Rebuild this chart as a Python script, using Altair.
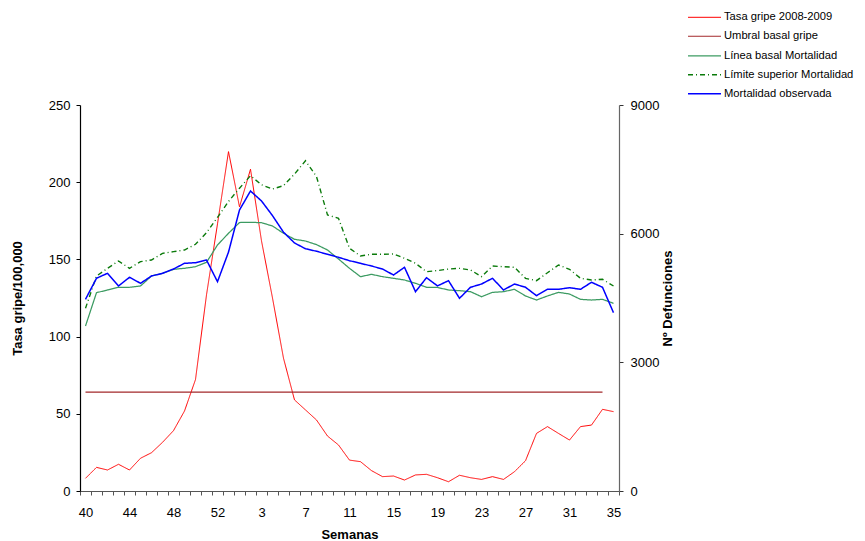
import json
import altair as alt
import pandas as pd

FONT = "Liberation Sans"

semanas = ["40", "41", "42", "43", "44", "45", "46", "47", "48", "49", "50", "51", "52", "53",
           "1", "2", "3", "4", "5", "6", "7", "8", "9", "10", "11", "12", "13", "14", "15",
           "16", "17", "18", "19", "20", "21", "22", "23", "24", "25", "26", "27", "28", "29",
           "30", "31", "32", "33", "34", "35"]

semanas_etiqueta = ["40", "44", "48", "52", "3", "7", "11", "15", "19", "23", "27", "31", "35"]

tasa_gripe = [8.2, 15.3, 13.6, 17.3, 13.6, 21.2, 24.8, 31.5, 39.1, 51.8, 72.2, 127, 173,
              219.8, 184, 208.4, 162, 125, 86, 59, 52.5, 46, 35.6, 29.8, 20, 19, 13.2, 9.3,
              9.7, 7.1, 10.4, 10.8, 8.6, 6.0, 10.2, 8.6, 7.5, 9.3, 7.5, 12.5, 19.6, 37.3,
              41.7, 37.3, 33, 41.7, 42.7, 52.9, 51.4]

umbral_gripe = [64, 64, 64, 64, 64, 64, 64, 64,
                64, 64, 64, 64, 64, 64, 64, 64,
                64, 64, 64, 64, 64, 64, 64, 64,
                64, 64, 64, 64, 64, 64, 64, 64,
                64, 64, 64, 64, 64, 64, 64, 64,
                64, 64, 64, 64, 64, 64, 64, 64]

linea_basal = [3847, 4624, 4687, 4750, 4750, 4780, 5013, 5076, 5169, 5192, 5230, 5332, 5736,
               6009, 6260, 6265, 6256, 6179, 6009, 5869, 5829, 5744, 5619, 5409, 5192, 4997,
               5052, 4997, 4959, 4920, 4843, 4750, 4745, 4687, 4671, 4647, 4530, 4632, 4647,
               4703, 4547, 4453, 4547, 4632, 4593, 4469, 4453, 4469, 4376]

limite_superior = [4259, 5013, 5192, 5363, 5192, 5347, 5386, 5542, 5580, 5619, 5752, 6023,
                   6380, 6750, 7060, 7350, 7140, 7040, 7120, 7390, 7700, 7330, 6436, 6359,
                   5659, 5479, 5519, 5519, 5526, 5426, 5309, 5113, 5140, 5176, 5192, 5153,
                   4997, 5246, 5230, 5215, 4959, 4904, 5090, 5269, 5169, 4959, 4920, 4936,
                   4780]

mortalidad_obs = [4470, 4960, 5076, 4780, 4983, 4843, 5013, 5076, 5176, 5309, 5323, 5386,
                  4880, 5570, 6552, 6995, 6762, 6420, 6035, 5783, 5648, 5590, 5519, 5449,
                  5370, 5309, 5246, 5176, 5036, 5216, 4647, 4973, 4783, 4904, 4493, 4750,
                  4826, 4959, 4687, 4826, 4750, 4554, 4703, 4703, 4740, 4703, 4866, 4750,
                  4158]

series = ["Tasa gripe 2008-2009", "Umbral basal gripe", "Línea basal Mortalidad",
          "Límite superior Mortalidad", "Mortalidad observada"]
colores = ["#ff0000", "#a3282b", "#3c9b62", "#0a7a0a", "#0000ff"]
trazos = [[1, 0], [1, 0], [1, 0], [5, 3, 1, 3], [1, 0]]
anchos = [1, 1.5, 2.2, 1, 3.5]

SIMBOLO = "M-1.33,0H1.33"
TAM_SIMBOLO = 615


def largo(nombre, valores):
    return [{"semana": s, "serie": nombre, "valor": v} for s, v in zip(semanas, valores)]


df_izq = pd.DataFrame(largo(series[0], tasa_gripe) + largo(series[1], umbral_gripe))
df_der = pd.DataFrame(largo(series[2], linea_basal) + largo(series[3], limite_superior)
                      + largo(series[4], mortalidad_obs))

leyenda = alt.Legend(title=None, orient="none", legendX=611, legendY=-100.7,
                     symbolType=SIMBOLO, symbolSize=TAM_SIMBOLO, labelFontSize=11.2,
                     labelFont=FONT, labelColor="#000000", labelOffset=6,
                     labelLimit=200, rowPadding=0, padding=0)

x_enc = alt.X("semana:O", sort=semanas, bandPosition=0.5,
              scale=alt.Scale(type="band", paddingInner=0, paddingOuter=0),
              axis=alt.Axis(title="Semanas", tickBand="extent", labelAngle=0,
                            labelExpr=f"indexof({json.dumps(semanas_etiqueta)}, datum.label) >= 0 ? datum.label : ''",
                            labelOverlap=False, labelBound=False,
                            tickSize=4, labelPadding=11, titlePadding=9,
                            domainColor="#555555", tickColor="#555555"))

enc_comun = dict(
    color=alt.Color("serie:N", scale=alt.Scale(domain=series, range=colores), legend=leyenda),
    strokeDash=alt.StrokeDash("serie:N", scale=alt.Scale(domain=series, range=trazos), legend=leyenda),
    strokeWidth=alt.StrokeWidth("serie:N", scale=alt.Scale(domain=series, range=anchos), legend=leyenda),
)

izq = alt.Chart(df_izq).mark_line().encode(
    x=x_enc,
    y=alt.Y("valor:Q", scale=alt.Scale(domain=[0, 250]),
            axis=alt.Axis(title="Tasa gripe/100,000", values=[0, 50, 100, 150, 200, 250],
                          tickSize=4, labelPadding=6, titlePadding=24,
                          domainColor="#000000", tickColor="#000000")),
    **enc_comun,
)

der = alt.Chart(df_der).mark_line().encode(
    x=x_enc,
    y=alt.Y("valor:Q", scale=alt.Scale(domain=[0, 9000]),
            axis=alt.Axis(title="Nº Defunciones", orient="right", values=[0, 3000, 6000, 9000],
                          format="d", tickSize=4, labelPadding=7, titlePadding=16, titleAngle=270,
                          domainColor="#666666", tickColor="#333333")),
    **enc_comun,
)

chart = alt.layer(izq, der).resolve_scale(y="independent").properties(
    width=539, height=386,
    autosize=alt.AutoSizeParams(type="none"),
    padding={"left": 72, "top": 97, "right": 238, "bottom": 60},
).configure_view(stroke=None).configure_axis(
    grid=False, labelFont=FONT, labelFontSize=13, labelColor="#000000",
    titleFont=FONT, titleFontSize=13, titleFontWeight="bold", titleColor="#000000",
    domainWidth=1.2,
).configure_legend(
    symbolType=SIMBOLO, symbolSize=TAM_SIMBOLO, rowPadding=0, labelLimit=200,
)

chart.save("out.html", embed_options={"renderer": "svg", "actions": False})
